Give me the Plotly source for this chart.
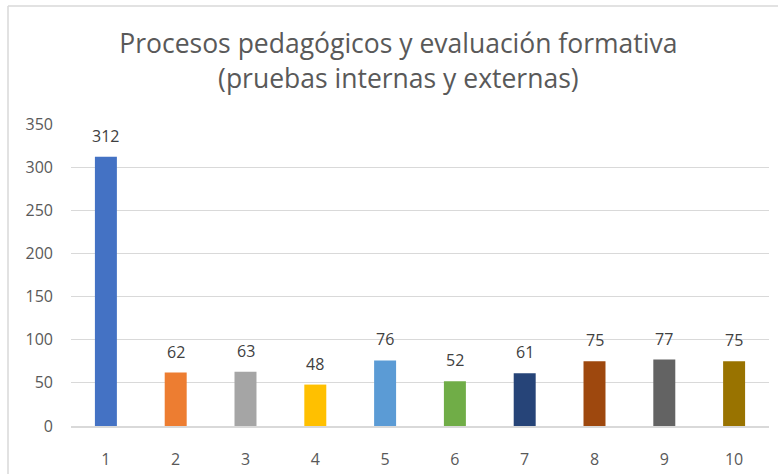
import plotly.graph_objects as go

categories = [1, 2, 3, 4, 5, 6, 7, 8, 9, 10]
values = [312, 62, 63, 48, 76, 52, 61, 75, 77, 75]
colors = ["#4472C4", "#ED7D31", "#A5A5A5", "#FFC000", "#5B9BD5",
          "#70AD47", "#264478", "#9E480E", "#636363", "#997300"]
y_ticks = [0, 50, 100, 150, 200, 250, 300, 350]
title_text = "Procesos pedagógicos y evaluación formativa<br>(pruebas internas y externas)"

W, H = 778, 474
ML, MR, MT, MB = 71, 9, 124, 48
pw, ph = W - ML - MR, H - MT - MB

fig = go.Figure()
fig.add_trace(go.Bar(
    x=categories, y=values,
    marker=dict(color=colors, line=dict(width=0)),
    width=0.315,
    hoverinfo="x+y",
))

for c, v in zip(categories, values):
    fig.add_annotation(x=c, y=v, text=str(v), showarrow=False,
                       yanchor="bottom", yshift=8,
                       font=dict(family="Open Sans, sans-serif", size=16, color="#404040"))

fig.update_layout(
    width=W, height=H,
    margin=dict(l=ML, r=MR, t=MT, b=MB),
    paper_bgcolor="white", plot_bgcolor="white",
    showlegend=False,
    font=dict(family="Open Sans, sans-serif", color="#595959"),
    title=dict(text=title_text, x=0.512, xanchor="center", y=0.888, yanchor="middle",
               font=dict(family="Open Sans, sans-serif", size=26.5, color="#595959")),
    xaxis=dict(range=[0.5, 10.5], tickvals=categories, showgrid=False, zeroline=False,
               showline=True, linecolor="#d9d9d9", linewidth=1.5, layer="above traces",
               ticks="", ticklabelstandoff=18, automargin=False,
               tickfont=dict(size=16, color="#595959")),
    yaxis=dict(range=[0, 350], tickvals=y_ticks, showgrid=True,
               gridcolor="#d9d9d9", gridwidth=1.3, zeroline=False,
               ticks="", ticklabelstandoff=17, automargin=False,
               tickfont=dict(size=16, color="#595959")),
    shapes=[
        dict(type="line", xref="paper", yref="paper",
             x0=(8 - ML) / pw, x1=(8 - ML) / pw, y0=(H - 6 - MB) / ph, y1=(0 - MB) / ph,
             line=dict(color="#d9d9d9", width=1.5)),
        dict(type="line", xref="paper", yref="paper",
             x0=(8 - ML) / pw, x1=(W + 5 - ML) / pw, y0=(H - 6 - MB) / ph, y1=(H - 6 - MB) / ph,
             line=dict(color="#d9d9d9", width=1.5)),
    ],
)

fig.write_html("out.html", config={"displayModeBar": False},
               post_script="document.body.style.margin='0';document.body.style.overflow='hidden';")
